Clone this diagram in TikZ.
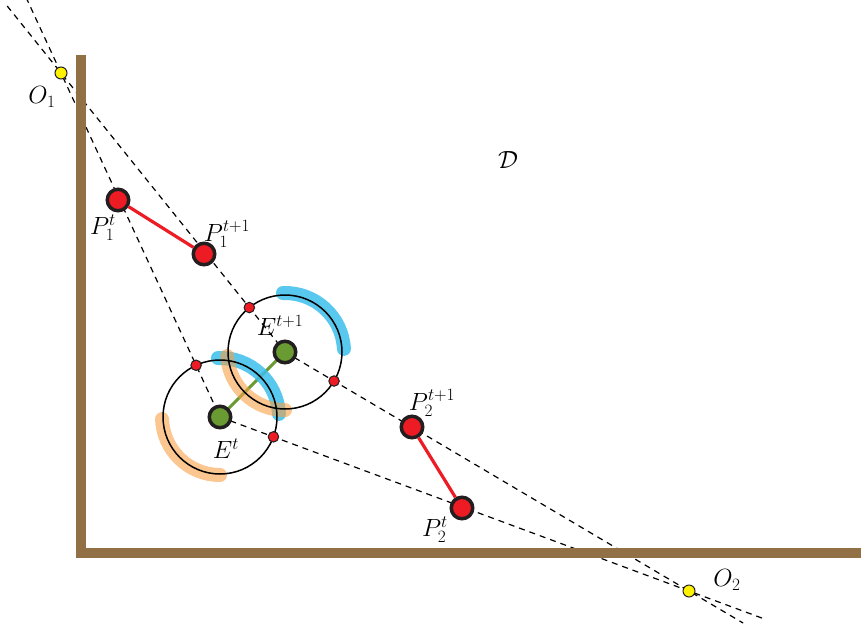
\documentclass[tikz,border=0pt]{standalone}
\usetikzlibrary{calc}
\definecolor{wallc}{RGB}{145,112,70}
\definecolor{redc}{RGB}{237,28,36}
\definecolor{greenc}{RGB}{106,154,50}
\definecolor{edgec}{RGB}{35,31,32}
\definecolor{bluec}{RGB}{60,190,236}
\definecolor{orangec}{RGB}{248,160,70}
\definecolor{yellowc}{RGB}{255,242,0}
\begin{document}
\begin{tikzpicture}[x=1pt,y=1pt,
  bignode/.style={circle,draw=edgec,line width=3.5pt,minimum size=21.5pt,inner sep=0pt},
  rednode/.style={bignode,fill=redc},
  greennode/.style={bignode,fill=greenc},
  dotnode/.style={circle,draw=edgec,line width=1pt,fill=redc,minimum size=10.5pt,inner sep=0pt},
  onode/.style={circle,draw=edgec,line width=1pt,fill=yellowc,minimum size=12pt,inner sep=0pt},
  ray/.style={draw=black,line width=1.2pt,dash pattern=on 6pt off 5pt},
  wall/.style={draw=wallc,line width=10pt},
  lbl/.style={font=\fontsize{26.5}{31}\selectfont,inner sep=0pt},
  barc/.style={draw=bluec,line width=14pt,line cap=round,opacity=0.85},
  oarc/.style={draw=orangec,line width=14pt,line cap=round,opacity=0.6},
  ring/.style={draw=black,line width=1.5pt}]
\useasboundingbox (0,0) rectangle (861,-624);
% centres
\coordinate (O1c) at (61,-73);
\coordinate (O2c) at (689,-591);
\coordinate (Etc) at (220,-417);
\coordinate (Enc) at (285,-352);
% free ends of rays
\coordinate (r1a) at ($(Etc)!1.22!(O1c)$);
\coordinate (r2a) at ($(Enc)!1.24!(O1c)$);
\coordinate (r3b) at ($(Etc)!1.156!(O2c)$);
\coordinate (r4b) at ($(Enc)!1.134!(O2c)$);
% rays
\draw[ray] (r1a) -- (Etc);
\draw[ray] (r2a) -- (Enc);
\draw[ray] (Etc) -- (r3b);
\draw[ray] (Enc) -- (r4b);
% walls
\coordinate (w1) at (80.5,-55);
\coordinate (w2) at (80.5,-553);
\coordinate (w3) at (861,-553);
\draw[wall] (w1) -- (w2) -- (w3);
% nodes
\node[rednode] (P1t) at (118,-200) {};
\node[rednode] (P1n) at (204,-254) {};
\node[rednode] (P2n) at (412,-427) {};
\node[rednode] (P2t) at (462,-508) {};
% connectors
\draw[draw=greenc,line width=3pt] (Etc) -- (Enc);
\draw[draw=redc,line width=3.2pt] (P1t) -- (P1n);
\draw[draw=redc,line width=3.2pt] (P2n) -- (P2t);
% arcs
\draw[barc] (Enc) ++(92:59) arc[start angle=92,end angle=3,radius=59];
\draw[barc] (Etc) ++(92:59) arc[start angle=92,end angle=3,radius=59];
\draw[oarc] (Etc) ++(182:58) arc[start angle=182,end angle=270,radius=58];
\draw[oarc] (Enc) ++(184:58) arc[start angle=184,end angle=270,radius=58];
% circles
\draw[ring] (Etc) circle[radius=57];
\draw[ring] (Enc) circle[radius=57];
% intersection dots
\node[dotnode] (d1) at ($(Etc)!57pt!(O1c)$) {};
\node[dotnode] (d2) at ($(Etc)!57pt!(O2c)$) {};
\node[dotnode] (d3) at ($(Enc)!57pt!(O1c)$) {};
\node[dotnode] (d4) at ($(Enc)!57pt!(O2c)$) {};
\node[greennode] (Et) at (Etc) {};
\node[greennode] (En) at (Enc) {};
\node[onode] (O1) at (O1c) {};
\node[onode] (O2) at (O2c) {};
% labels
\node[lbl] (lO1) at (42,-97) {$O_1$};
\node[lbl] (lO2) at (727,-580) {$O_2$};
\node[lbl] (lP1t) at (103,-228) {$P_1^t$};
\node[lbl] (lP1n) at (227,-234) {$P_1^{t+1}$};
\node[lbl] (lP2n) at (432,-403) {$P_2^{t+1}$};
\node[lbl] (lP2t) at (435,-530) {$P_2^t$};
\node[lbl] (lEt) at (226,-449) {$E^t$};
\node[lbl] (lEn) at (280,-325) {$E^{t+1}$};
\node[lbl] (lD) at (508,-160) {$\mathcal{D}$};
\end{tikzpicture}
\end{document}
